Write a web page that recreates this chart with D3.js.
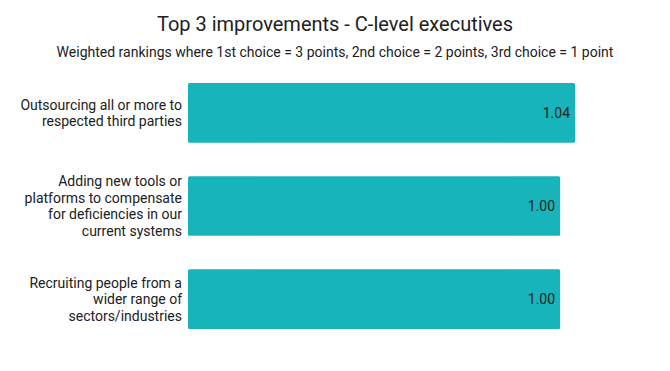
<!DOCTYPE html>
<html>
<head>
<meta charset="utf-8">
<script src="https://cdn.jsdelivr.net/npm/d3@7"></script>
<style>
  body { margin: 0; background: #fff; }
  text { font-family: Roboto, "Noto Sans", sans-serif; fill: #212121; }
</style>
</head>
<body>
<svg id="chart"></svg>
<script>
// chart data
const categories = [
  "Outsourcing all or more to respected third parties",
  "Adding new tools or platforms to compensate for deficiencies in our current systems",
  "Recruiting people from a wider range of sectors/industries"
];
const values = [1.04, 1.00, 1.00];
const title = "Top 3 improvements - C-level executives";
const subtitle = "Weighted rankings where 1st choice = 3 points, 2nd choice = 2 points, 3rd choice = 1 point";

// dimensions
const width = 670;
const height = 371;
const margin = { top: 83, right: 95, bottom: 42, left: 188 };

const svg = d3.select("#chart")
  .attr("width", width)
  .attr("height", height);

// scales
const x = d3.scaleLinear()
  .domain([0, d3.max(values)])
  .range([margin.left, width - margin.right]);

const y = d3.scaleBand()
  .domain(categories)
  .range([margin.top, height - margin.bottom])
  .paddingInner(0.36)
  .paddingOuter(0);

const data = categories.map((c, i) => ({ cat: c, val: values[i] }));

// title + subtitle
svg.append("text")
  .attr("x", width / 2)
  .attr("y", 31)
  .attr("text-anchor", "middle")
  .style("font-size", "20px")
  .text(title);

svg.append("text")
  .attr("x", width / 2)
  .attr("y", 57)
  .attr("text-anchor", "middle")
  .style("font-size", "14px")
  .text(subtitle);

// bars
svg.append("g")
  .selectAll("rect")
  .data(data)
  .join("rect")
  .attr("x", x(0))
  .attr("y", d => y(d.cat))
  .attr("width", d => x(d.val) - x(0))
  .attr("height", y.bandwidth())
  .attr("rx", 1.5)
  .attr("fill", "#18b4bc");

// value labels
svg.append("g")
  .selectAll("text")
  .data(data)
  .join("text")
  .attr("x", d => x(d.val) - 5)
  .attr("y", d => y(d.cat) + y.bandwidth() / 2)
  .attr("dy", "0.35em")
  .attr("text-anchor", "end")
  .style("font-size", "14px")
  .text(d => d3.format(".2f")(d.val));

// category labels, wrapped
const lineHeight = 16.5;
const labels = svg.append("g")
  .selectAll("text")
  .data(data)
  .join("text")
  .attr("text-anchor", "end")
  .style("font-size", "14px");

labels.each(function(d) {
  const t = d3.select(this);
  const words = d.cat.split(" ");
  const lines = [];
  let line = [];
  const probe = t.append("tspan");
  words.forEach(w => {
    line.push(w);
    probe.text(line.join(" "));
    if (probe.node().getComputedTextLength() > 163 && line.length > 1) {
      line.pop();
      lines.push(line.join(" "));
      line = [w];
    }
  });
  lines.push(line.join(" "));
  probe.remove();
  const cy = y(d.cat) + y.bandwidth() / 2;
  const y0 = cy - (lines.length - 1) * lineHeight / 2 + 5;
  lines.forEach((l, i) => {
    t.append("tspan")
      .attr("x", 182)
      .attr("y", y0 + i * lineHeight)
      .text(l);
  });
});
</script>
</body>
</html>
